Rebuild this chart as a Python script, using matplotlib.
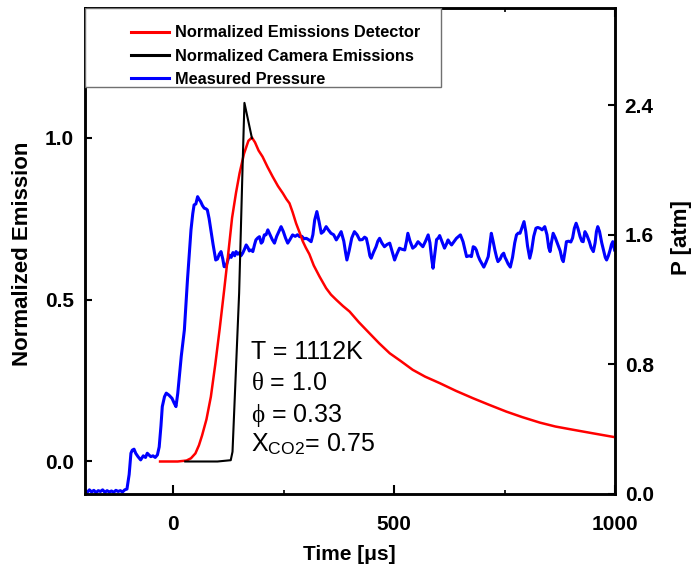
import matplotlib
matplotlib.use("Agg")
import matplotlib.pyplot as plt
from matplotlib.patches import Rectangle
from matplotlib.ticker import MultipleLocator

plt.rcParams['font.family'] = ['Liberation Sans', 'DejaVu Sans']
plt.rcParams['mathtext.fontset'] = 'custom'
plt.rcParams['mathtext.rm'] = 'Liberation Sans'
plt.rcParams['mathtext.it'] = 'Liberation Serif'
plt.rcParams['mathtext.bf'] = 'Liberation Sans:bold'

# ---------------- data ----------------
det_t = [-30, -10, 10, 30, 40, 50, 58, 65, 75, 85, 95, 105, 115, 125, 133, 142, 150,
         160, 170, 178, 185, 193, 202, 213, 225, 237, 248, 256, 263, 270, 278, 285,
         293, 300, 308, 318, 331, 346, 357, 369, 384, 399, 420, 444, 466, 490, 515,
         542, 570, 603, 640, 679, 715, 754, 790, 830, 865, 905, 950, 1000]
det_v = [0.0, 0.0, 0.0, 0.003, 0.01, 0.025, 0.05, 0.08, 0.13, 0.2, 0.3, 0.41, 0.528,
         0.65, 0.752, 0.83, 0.89, 0.95, 0.99, 1.0, 0.985, 0.96, 0.941, 0.91, 0.879,
         0.85, 0.828, 0.81, 0.797, 0.77, 0.735, 0.71, 0.68, 0.66, 0.64, 0.605, 0.571,
         0.535, 0.515, 0.499, 0.48, 0.463, 0.43, 0.396, 0.365, 0.334, 0.31, 0.283,
         0.262, 0.242, 0.218, 0.195, 0.175, 0.154, 0.137, 0.12, 0.108, 0.098, 0.087,
         0.075]

cam_t = [27, 60, 100, 130, 134, 149, 157, 161, 178]
cam_v = [0.0, 0.0, 0.0, 0.004, 0.03, 0.52, 0.92, 1.107, 0.998]

p_t = [-200, -195, -190, -185, -180, -175, -170, -165, -160, -155, -150, -145, -140,
       -135, -130, -125, -120, -115, -110, -105, -100, -96, -93, -89, -85, -80, -74,
       -68, -63, -59, -55, -51, -46, -41, -36, -32, -28, -25, -20, -16, -10, -3, 2,
       6, 10, 13, 18, 25, 32, 36, 40, 44, 47, 51, 55, 58, 62, 66, 70, 74, 77, 81, 85,
       90, 96, 100, 104, 108, 112, 115, 119, 123, 127, 131, 135, 139, 142, 146, 150,
       153, 157, 161, 165, 169, 172, 176, 180, 184, 187, 191, 195, 199, 202, 206,
       210, 214, 219, 224, 229, 234, 239, 244, 249, 254, 259, 264, 270, 276, 281,
       286, 291, 296, 301, 306, 312, 316, 320, 325, 330, 335, 340, 346, 351, 357,
       363, 369, 374, 380, 386, 390, 393, 398, 404, 410, 416, 422, 428, 433, 437,
       441, 445, 448, 453, 459, 463, 467, 472, 478, 484, 490, 495, 501, 506, 512,
       518, 524, 528, 531, 536, 542, 548, 554, 560, 565, 571, 577, 581, 585, 588,
       592, 596, 600, 603, 608, 614, 618, 622, 626, 630, 636, 641, 646, 650, 656,
       660, 664, 670, 675, 679, 683, 686, 690, 694, 699, 703, 708, 713, 717, 720,
       724, 728, 732, 735, 740, 744, 748, 751, 754, 758, 763, 768, 773, 777, 781,
       785, 790, 794, 798, 802, 807, 811, 816, 821, 825, 830, 835, 841, 846, 850,
       853, 856, 860, 865, 871, 876, 880, 883, 887, 890, 895, 900, 904, 908, 912,
       916, 921, 925, 928, 932, 936, 942, 946, 951, 955, 958, 961, 965, 970, 974,
       978, 981, 985, 989, 992, 995, 999]
p_v = [0.02, 0.01, 0.025, 0.012, 0.022, 0.008, 0.02, 0.015, 0.025, 0.01, 0.02, 0.012,
       0.018, 0.01, 0.022, 0.015, 0.02, 0.012, 0.025, 0.03, 0.12, 0.251, 0.27, 0.276,
       0.25, 0.23, 0.21, 0.235, 0.225, 0.251, 0.24, 0.23, 0.235, 0.225, 0.241, 0.29,
       0.42, 0.539, 0.6, 0.622, 0.61, 0.59, 0.56, 0.539, 0.62, 0.704, 0.85, 1.012,
       1.321, 1.48, 1.63, 1.73, 1.784, 1.79, 1.835, 1.82, 1.804, 1.78, 1.764, 1.76,
       1.753, 1.70, 1.63, 1.54, 1.444, 1.45, 1.48, 1.496, 1.45, 1.403, 1.403, 1.44,
       1.475, 1.46, 1.49, 1.47, 1.496, 1.48, 1.49, 1.47, 1.486, 1.51, 1.537, 1.52,
       1.50, 1.506, 1.496, 1.54, 1.568, 1.58, 1.588, 1.548, 1.557, 1.599, 1.60, 1.63,
       1.60, 1.57, 1.548, 1.59, 1.62, 1.65, 1.62, 1.58, 1.548, 1.57, 1.599, 1.59,
       1.60, 1.588, 1.59, 1.575, 1.578, 1.57, 1.557, 1.60, 1.69, 1.743, 1.68, 1.609,
       1.62, 1.65, 1.63, 1.609, 1.60, 1.568, 1.59, 1.619, 1.56, 1.49, 1.444, 1.50,
       1.58, 1.619, 1.60, 1.568, 1.57, 1.585, 1.578, 1.53, 1.47, 1.455, 1.49, 1.526,
       1.56, 1.578, 1.55, 1.526, 1.54, 1.548, 1.50, 1.444, 1.48, 1.517, 1.51, 1.506,
       1.56, 1.609, 1.56, 1.517, 1.53, 1.557, 1.54, 1.526, 1.56, 1.599, 1.55, 1.45,
       1.393, 1.48, 1.57, 1.58, 1.595, 1.56, 1.517, 1.54, 1.568, 1.55, 1.537, 1.56,
       1.578, 1.59, 1.599, 1.557, 1.51, 1.465, 1.47, 1.465, 1.526, 1.52, 1.506, 1.47,
       1.444, 1.42, 1.40, 1.43, 1.465, 1.55, 1.609, 1.56, 1.506, 1.46, 1.434, 1.45,
       1.475, 1.486, 1.46, 1.444, 1.42, 1.40, 1.46, 1.55, 1.599, 1.61, 1.609, 1.65,
       1.681, 1.62, 1.53, 1.455, 1.50, 1.59, 1.64, 1.645, 1.64, 1.63, 1.65, 1.60,
       1.52, 1.496, 1.55, 1.609, 1.58, 1.537, 1.50, 1.45, 1.434, 1.50, 1.557, 1.56,
       1.555, 1.58, 1.64, 1.671, 1.64, 1.588, 1.56, 1.557, 1.619, 1.60, 1.557, 1.52,
       1.496, 1.55, 1.62, 1.65, 1.62, 1.55, 1.506, 1.46, 1.444, 1.47, 1.506, 1.54,
       1.557, 1.506]

labels = ['Normalized Emissions Detector', 'Normalized Camera Emissions', 'Measured Pressure']
x_ticks = [0, 500, 1000]
y_ticks = [0.0, 0.5, 1.0]
p_ticks = [0.0, 0.8, 1.6, 2.4]
notes = ['T = 1112K', r'$\theta$ = 1.0', r'$\phi$ = 0.33', r'X$_{\mathrm{CO2}}$= 0.75']

# ---------------- figure ----------------
fig = plt.figure(figsize=(6.91, 5.69), dpi=100)
ax1 = fig.add_axes([0.123, 0.132, 0.767, 0.854])
ax2 = ax1.twinx()
ax1.set_zorder(ax2.get_zorder() + 1)
ax1.patch.set_visible(False)

l_det, = ax1.plot(det_t, det_v, color='#ff0000', lw=1.8, zorder=2)
l_cam, = ax1.plot(cam_t, cam_v, color='black', lw=1.5, zorder=3)
l_p, = ax2.plot(p_t, p_v, color='#0000ff', lw=2.2)

ax1.set_xlim(-200, 1000)
ax1.set_ylim(-0.1, 1.4)
ax2.set_ylim(0, 3.0)

ax1.set_xticks(x_ticks)
ax1.set_xticklabels([str(v) for v in x_ticks])
ax1.xaxis.set_minor_locator(MultipleLocator(250))
ax1.set_yticks(y_ticks)
ax1.set_yticklabels(['%.1f' % v for v in y_ticks])
ax2.set_yticks(p_ticks)
ax2.set_yticklabels(['%.1f' % v for v in p_ticks])

for lab in ax1.get_xticklabels() + ax1.get_yticklabels() + ax2.get_yticklabels():
    lab.set_fontsize(15)
    lab.set_fontweight('bold')

ax1.tick_params(axis='x', which='major', direction='in', length=6.5, width=1.5,
                pad=15, top=True)
ax1.tick_params(axis='x', which='minor', direction='in', length=3, width=1.2, top=True)
ax1.tick_params(axis='y', which='major', direction='in', length=5, width=1.5, pad=8)
ax2.tick_params(axis='y', which='major', direction='in', length=5, width=1.5, pad=7)

for ax in (ax1, ax2):
    for s in ax.spines.values():
        s.set_linewidth(1.8)

ax1.set_xlabel('Time [μs]', fontsize=15, fontweight='bold')
ax1.xaxis.set_label_coords(0.498, -0.106)
ax1.set_ylabel('Normalized Emission', fontsize=16, fontweight='bold')
ax1.yaxis.set_label_coords(-0.098, 0.494)
ax2.set_ylabel('P [atm]', fontsize=16, fontweight='bold')
ax2.yaxis.set_label_coords(1.106, 0.527)

# legend with a separate frame
frame = Rectangle((0, 0.837), 0.671, 0.163, transform=ax1.transAxes, fill=True,
                  facecolor='white', edgecolor='#707070', lw=1.0, zorder=4)
ax1.add_patch(frame)
leg = ax1.legend([l_det, l_cam, l_p], labels, loc='upper left',
                 bbox_to_anchor=(0.087, 0.964), frameon=False, borderpad=0,
                 borderaxespad=0, handlelength=2.3, handletextpad=0.4,
                 labelspacing=0.5, prop=dict(size=11.8, weight='bold'))
leg.set_zorder(5)
for h in leg.legend_handles:
    h.set_linewidth(2.2)

# annotation
y_base = [0.317, 0.221, 0.123, 0.031]
for s, yb in zip(notes, y_base):
    ax1.text(176, yb, s, fontsize=18, ha='left', va='baseline', zorder=6)

fig.savefig('out.png', dpi=100)
